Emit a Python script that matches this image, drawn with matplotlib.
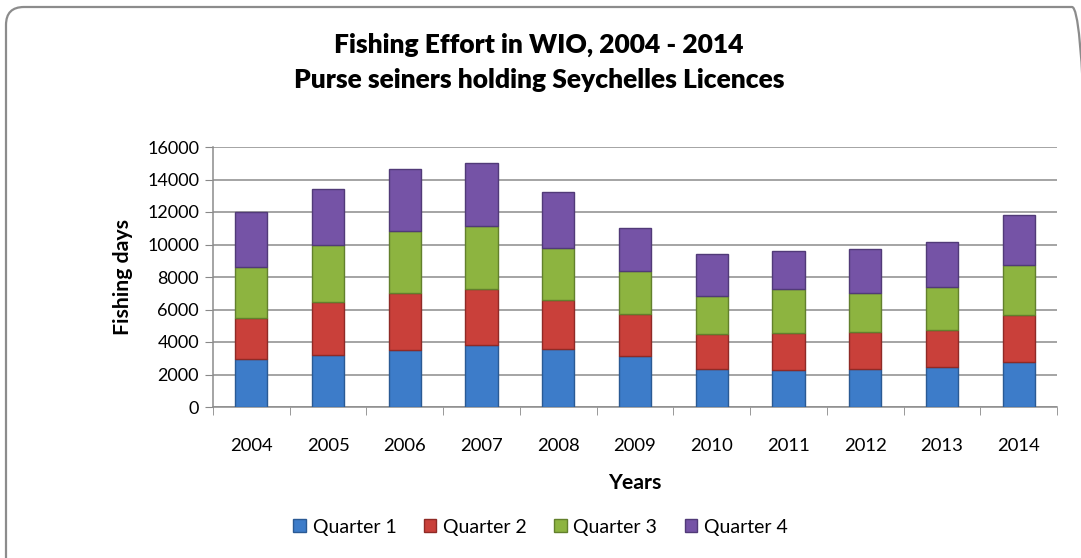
import numpy as np
import matplotlib
matplotlib.use("Agg")
import matplotlib.pyplot as plt
from matplotlib.patches import FancyBboxPatch

plt.rcParams['font.family'] = ['Lato', 'DejaVu Sans']

years = ['2004', '2005', '2006', '2007', '2008', '2009', '2010', '2011', '2012', '2013', '2014']
q1 = [2950, 3200, 3510, 3820, 3570, 3140, 2360, 2300, 2340, 2460, 2790]
q2 = [2550, 3270, 3510, 3470, 3040, 2610, 2140, 2280, 2260, 2280, 2870]
q3 = [3120, 3490, 3820, 3840, 3200, 2630, 2340, 2710, 2420, 2650, 3060]
q4 = [3370, 3430, 3780, 3860, 3450, 2610, 2550, 2280, 2730, 2790, 3100]
series = ['Quarter 1', 'Quarter 2', 'Quarter 3', 'Quarter 4']
colors = ['#3d7cc9', '#c9403a', '#8db440', '#7553a6']
edges = ['#2a5a94', '#8f2a26', '#62802c', '#513a78']

W, H = 1081, 558
fig = plt.figure(figsize=(W/100, H/100), dpi=100)
ax = fig.add_axes([213/W, 1-407/H, (1057-213)/W, (407-147)/H])

# rounded frame, runs off the right and bottom edge like the screenshot
frame = FancyBboxPatch((6/W, -30/H), 1084/W, 581/H,
                       boxstyle="round,pad=0,rounding_size=%f" % (18/W),
                       mutation_aspect=W/H,
                       transform=fig.transFigure, fill=False,
                       edgecolor='#8c8c8c', linewidth=1.6, zorder=0)
fig.patches.append(frame)

x = np.arange(len(years))
bottom = np.zeros(len(years))
for vals, lab, c, e in zip([q1, q2, q3, q4], series, colors, edges):
    ax.bar(x, vals, 0.42, bottom=bottom, color=c, edgecolor=e, linewidth=1.0,
           label=lab, zorder=3)
    bottom += np.array(vals)

ax.set_xlim(-0.5, len(years) - 0.5)
ax.set_ylim(0, 16000)
ax.set_yticks(np.arange(0, 16001, 2000))
ax.set_xticks(x)
ax.set_xticklabels(years)
ax.set_xticks(np.arange(-0.5, len(years), 1), minor=True)
ax.tick_params(axis='x', which='major', length=0, pad=22, labelsize=13.3)
ax.tick_params(axis='x', which='minor', length=6, color='#888888', direction='out')
ax.tick_params(axis='y', length=6, color='#888888', labelsize=13, pad=4)
ax.grid(axis='y', color='#8c8c8c', linewidth=1.1, zorder=0)
for s in ['top', 'right']:
    ax.spines[s].set_visible(False)
for s in ['left', 'bottom']:
    ax.spines[s].set_color('#8c8c8c')
    ax.spines[s].set_linewidth(1.1)

ax.set_ylabel('Fishing days', fontsize=15.3, fontweight='bold', labelpad=10)
ax.set_xlabel('Years', fontsize=15.3, fontweight='bold', labelpad=14)

fig.text(0.4985, 1-45/H, 'Fishing Effort in WIO, 2004 - 2014', ha='center', va='center',
         fontsize=19, fontweight='heavy')
fig.text(0.4985, 1-80/H, 'Purse seiners holding Seychelles Licences', ha='center', va='center',
         fontsize=19, fontweight='heavy')

fig.legend(loc='center', bbox_to_anchor=(0.5, 1-527/H), ncol=4, frameon=False,
           fontsize=14, handlelength=0.65, handleheight=0.65, handletextpad=0.35,
           columnspacing=1.4)

fig.savefig('out.png', dpi=100)
